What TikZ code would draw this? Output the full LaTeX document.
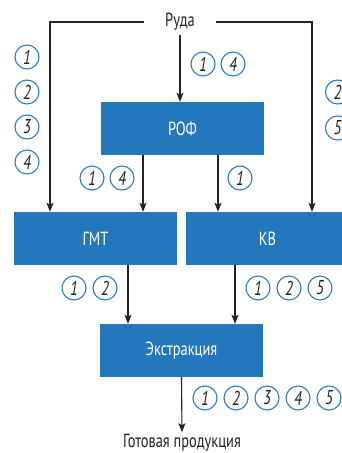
\documentclass[tikz,border=0pt]{standalone}
\usepackage{fontspec}
\setmainfont{PT Sans}[FakeStretch=0.76]
\usetikzlibrary{arrows.meta}
\definecolor{boxblue}{RGB}{34,119,189}
\definecolor{ringblue}{RGB}{43,123,200}
\definecolor{ink}{RGB}{35,35,35}

\tikzset{
  stage/.style={fill=boxblue, text=white, minimum width=163pt, minimum height=53pt,
    inner sep=0pt, font=\fontsize{19}{22}\selectfont},
  flow/.style={draw=ink, line width=1.1pt, -{Stealth[length=9pt,width=7pt,inset=2pt]}},
  num/.style={circle, draw=ringblue, line width=1.1pt, minimum size=24pt, inner sep=0pt,
    text=ink, font=\fontsize{20}{22}\selectfont\itshape},
  caption/.style={text=ink, font=\fontsize{19}{22}\selectfont}
}

\begin{document}
\begin{tikzpicture}[x=1pt, y=-1pt]
        \useasboundingbox (0,0) rectangle (342,453);

        % Stufen
        \node[caption, inner xsep=21pt, inner ysep=4pt] (ore) at (180,22) {Руда};
        \node[stage] (rof) at (182.5,128.5) {РОФ};
        \node[stage] (gmt) at (95.5,238.5) {ГМТ};
        \node[stage] (kv) at (267.5,238.5) {КВ};
        \node[stage] (extr) at (181.5,350.5) {Экстракция};
        \node[caption, inner ysep=2pt] (prod) at (182,443) {Готовая продукция};

        % Ausgangspunkte der Pfeile
        \coordinate (gmtL) at (50,0);
        \coordinate (kvR) at (312,0);
        \path (rof.south) ++(-39.5,0) coordinate (rofA) ++(75,0) coordinate (rofB);
        \path (gmt.south) ++(32.5,0) coordinate (gmtA);
        \path (kv.south) ++(-32.5,0) coordinate (kvA);

        % Pfeile
        \draw[flow] (ore.west) -| (gmtL |- gmt.north);
        \draw[flow] (ore.east) -| (kvR |- kv.north);
        \draw[flow] (ore.south) -- (ore.south |- rof.north);
        \draw[flow] (rofA) -- (rofA |- gmt.north);
        \draw[flow] (rofB) -- (rofB |- kv.north);
        \draw[flow] (gmtA) -- (gmtA |- extr.north);
        \draw[flow] (kvA) -- (kvA |- extr.north);
        \draw[flow] (extr.south) -- (prod.north);

        % Nummern
        \foreach \x/\y/\n [count=\k] in {
            27/57/1, 27/92/2, 27/127/3, 27/162/4,
            203/64/1, 233/64/4,
            337.5/92/2, 337.5/128/5,
            92/178/1, 122/178/4, 240/178/1,
            74/288/1, 105/288/2,
            258/288/1, 289/288/2, 320/288/5,
            205/398/1, 236/398/2, 267/398/3, 298/398/4, 329/398/5}
            \node[num] (m\k) at (\x,\y) {\n};
\end{tikzpicture}
\end{document}
